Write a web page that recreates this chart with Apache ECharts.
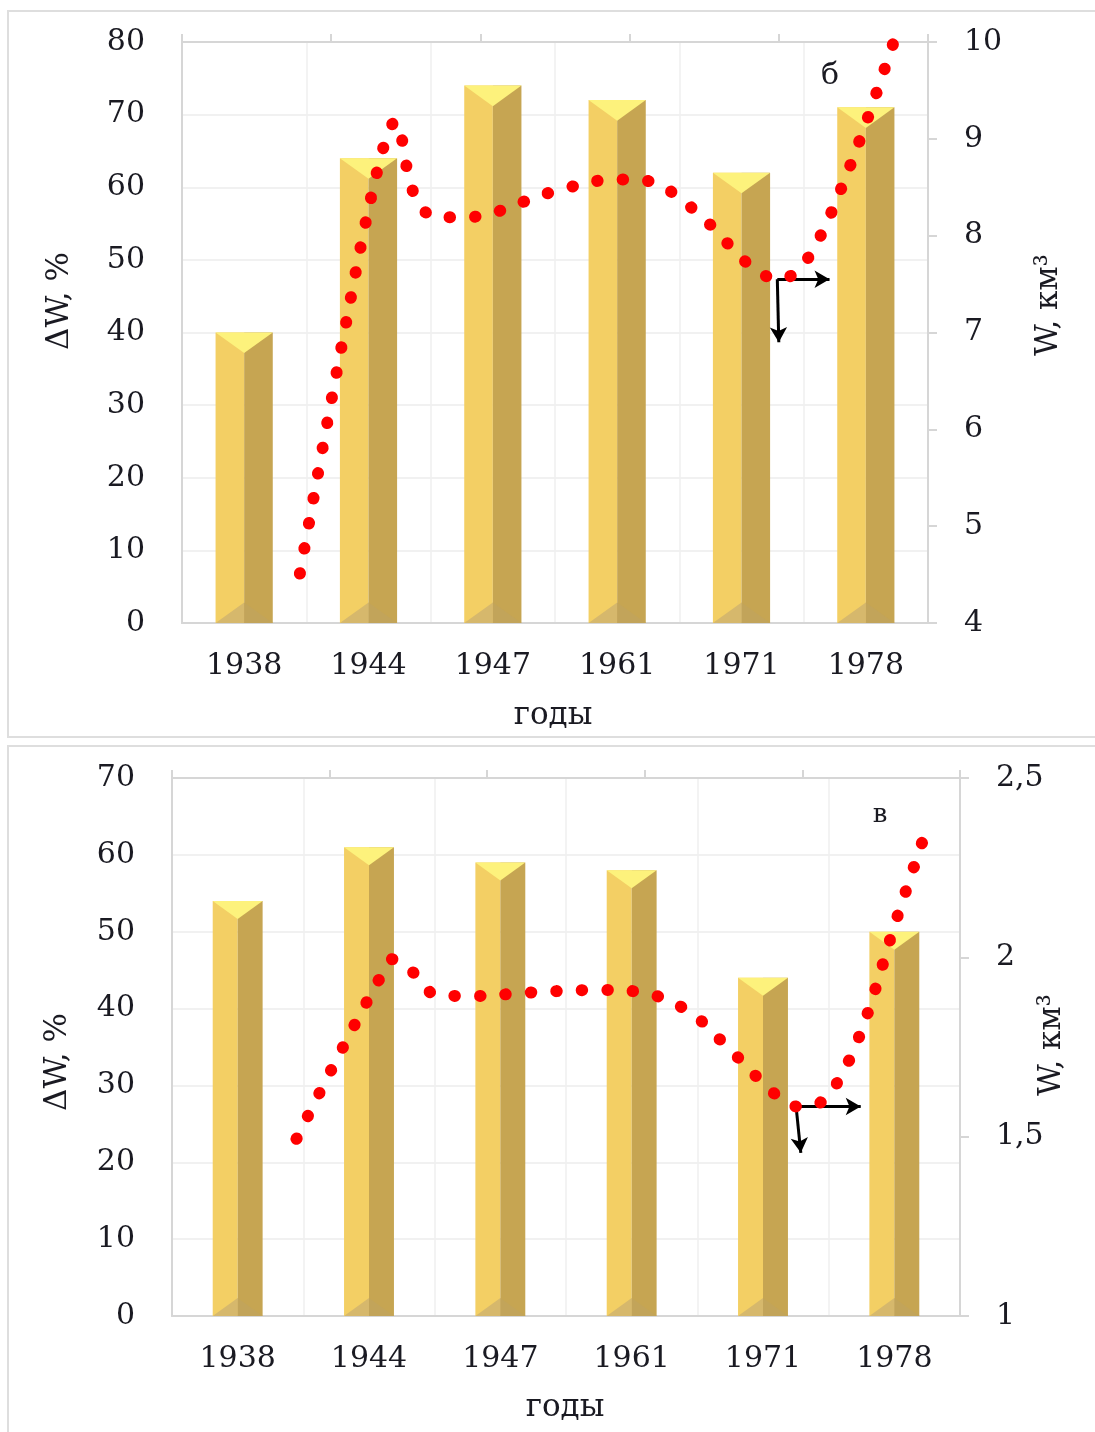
<!DOCTYPE html>
<html>
<head>
<meta charset="utf-8">
<script src="https://cdn.jsdelivr.net/npm/echarts@6/dist/echarts.min.js"></script>
<style>
html,body{margin:0;padding:0;background:#fff;}
#chart{width:1095px;height:1432px;}
</style>
</head>
<body>
<div id="chart"></div>
<script>
// ---- data ----
const categories = ['1938', '1944', '1947', '1961', '1971', '1978'];
const dwTop = [40, 64, 74, 72, 62, 71];          // ΔW, % (panel б)
const dwBottom = [54, 61, 59, 58, 44, 50];       // ΔW, % (panel в)
// W, км³ curves: [position on secondary x scale (0..5), W]
const wTop = [[0.79, 4.51], [1.07, 6.86], [1.31, 8.68], [1.43, 9.18], [1.55, 8.45],
              [1.70, 8.19], [1.90, 8.19], [2.48, 8.45], [2.90, 8.58], [3.10, 8.57],
              [3.43, 8.27], [3.83, 7.66], [4.01, 7.55], [4.20, 7.78], [4.47, 8.69], [4.77, 10.0]];
const wBottom = [[0.79, 1.494], [1.05, 1.72], [1.32, 1.943], [1.40, 1.995], [1.52, 1.962],
                 [1.68, 1.895], [1.92, 1.892], [2.27, 1.902], [2.70, 1.909], [2.96, 1.904],
                 [3.27, 1.852], [3.50, 1.761], [3.83, 1.617], [3.97, 1.584], [4.12, 1.597],
                 [4.34, 1.757], [4.60, 2.110], [4.79, 2.36]];
// arrow annotations [from, to] in (x2, W) units
const arrowsTop = [[[3.99, 7.55], [4.34, 7.55]], [[3.99, 7.55], [4.00, 6.90]]];
const arrowsBottom = [[[3.96, 1.584], [4.37, 1.584]], [[3.96, 1.584], [3.99, 1.455]]];
const leftTop = [0, 80, 10], rightTop = [4, 10, 1];
const leftBottom = [0, 70, 10], rightBottom = [1, 2.5, 0.5];

// ---- styling ----
const FONT = 'DejaVu Serif';
const TXT = '#1a1a22';
const AX = '#d6d6d6';

function bevelBar(widthRatio) {
  return function (params, api) {
    const idx = api.value(0), v = api.value(1);
    const top = api.coord([idx, v]);
    const bot = api.coord([idx, 0]);
    const band = api.size([1, 0])[0];
    const w = band * widthRatio, h = w / 2;
    const xc = top[0], x0 = xc - h, x1 = xc + h;
    const yt = top[1], yb = bot[1];
    const d = Math.min(h * 0.72, (yb - yt) / 2);
    return {
      type: 'group',
      children: [
        {type: 'rect', shape: {x: x0, y: yt, width: h, height: yb - yt}, style: {fill: '#F3CF64'}},
        {type: 'rect', shape: {x: xc, y: yt, width: h, height: yb - yt}, style: {fill: '#C6A552'}},
        {type: 'polygon', shape: {points: [[x0, yt], [x1, yt], [xc, yt + d]]}, style: {fill: '#FDF27C'}},
        {type: 'polygon', shape: {points: [[x0, yb], [xc, yb - d], [xc, yb]]}, style: {fill: '#D6B86C'}},
        {type: 'polygon', shape: {points: [[xc, yb], [xc, yb - d], [x1, yb]]}, style: {fill: '#C2A45A'}}
      ]
    };
  };
}

function axesFor(gi, left, right) {
  const xCat = {
    type: 'category', gridIndex: gi, data: categories, position: 'bottom',
    axisLine: {lineStyle: {color: AX, width: 2}},
    axisTick: {show: false},
    axisLabel: {color: TXT, fontFamily: FONT, fontSize: 30, margin: 28},
    splitLine: {show: true, lineStyle: {color: '#efefef', width: 1.5}}
  };
  const xTop = {
    type: 'value', gridIndex: gi, position: 'top', min: 0, max: 5, interval: 1,
    axisLine: {show: true, lineStyle: {color: AX, width: 2}},
    axisTick: {show: true, length: 8, lineStyle: {color: AX, width: 2}},
    axisLabel: {show: false}, splitLine: {show: false}
  };
  const yL = {
    type: 'value', gridIndex: gi, position: 'left', min: left[0], max: left[1], interval: left[2],
    axisLine: {show: true, lineStyle: {color: AX, width: 2}},
    axisTick: {show: false},
    axisLabel: {color: TXT, fontFamily: FONT, fontSize: 30, margin: 37},
    splitLine: {show: true, lineStyle: {color: '#ececec', width: 1.5}}
  };
  const yR = {
    type: 'value', gridIndex: gi, position: 'right', min: right[0], max: right[1], interval: right[2],
    axisLine: {show: true, lineStyle: {color: AX, width: 2}},
    axisTick: {show: true, inside: false, length: 9, lineStyle: {color: AX, width: 2}},
    axisLabel: {color: TXT, fontFamily: FONT, fontSize: 30, margin: 36,
                formatter: v => String(v).replace('.', ',')},
    splitLine: {show: false}
  };
  return {xCat, xTop, yL, yR};
}

const a0 = axesFor(0, leftTop, rightTop);
const a1 = axesFor(1, leftBottom, rightBottom);

function arrowMarks(list) {
  return list.map(p => [
    {coord: p[0], symbol: 'none'},
    {coord: p[1], symbol: 'arrow'}
  ]);
}

function wLine(xi, yi, data, arrows) {
  return {
    type: 'line', xAxisIndex: xi, yAxisIndex: yi, data: data,
    smooth: 0.35, showSymbol: false, symbol: 'none', z: 5,
    lineStyle: {color: '#FF0000', width: 12, type: [0.5, 25], cap: 'round'},
    markLine: {
      silent: true, symbolSize: [13, 15], animation: false,
      label: {show: false},
      lineStyle: {color: '#000', width: 3, type: 'solid'},
      data: arrowMarks(arrows)
    }
  };
}

function vText(x, y, text) {
  return {type: 'text', x: x, y: y, rotation: Math.PI / 2,
          style: {text: text, fill: TXT, font: '31px "' + FONT + '"', textAlign: 'center', textVerticalAlign: 'middle'}};
}
function hText(x, y, text, size) {
  return {type: 'text', x: x, y: y,
          style: {text: text, fill: TXT, font: size + 'px "' + FONT + '"', textAlign: 'center', textVerticalAlign: 'middle'}};
}

const option = {
  animation: false,
  backgroundColor: '#fff',
  grid: [
    {left: 182, top: 42, width: 746, height: 581},
    {left: 172, top: 778, width: 788, height: 538}
  ],
  xAxis: [a0.xCat, a0.xTop, a1.xCat, a1.xTop],
  yAxis: [a0.yL, a0.yR, a1.yL, a1.yR],
  series: [
    {type: 'custom', xAxisIndex: 0, yAxisIndex: 0, renderItem: bevelBar(0.46),
     data: dwTop.map((v, i) => [i, v]), encode: {x: 0, y: 1}, z: 2},
    wLine(1, 1, wTop, arrowsTop),
    {type: 'custom', xAxisIndex: 2, yAxisIndex: 2, renderItem: bevelBar(0.38),
     data: dwBottom.map((v, i) => [i, v]), encode: {x: 0, y: 1}, z: 2},
    wLine(3, 3, wBottom, arrowsBottom)
  ],
  graphic: [
    {type: 'rect', shape: {x: 8, y: 11, width: 1100, height: 726}, style: {fill: 'none', stroke: '#dedede', lineWidth: 2}, z: -1},
    {type: 'rect', shape: {x: 8, y: 746, width: 1100, height: 720}, style: {fill: 'none', stroke: '#dedede', lineWidth: 2}, z: -1},
    vText(60, 301, 'ΔW, %'),
    vText(1049, 305, 'W, км³'),
    hText(553, 716, 'годы', 31),
    hText(830, 76, 'б', 30),
    vText(58, 1062, 'ΔW, %'),
    vText(1052, 1045, 'W, км³'),
    hText(565, 1408, 'годы', 31),
    hText(880, 815, 'в', 26)
  ]
};

const chart = echarts.init(document.getElementById('chart'), null, {renderer: 'canvas'});
chart.setOption(option);
</script>
</body>
</html>
